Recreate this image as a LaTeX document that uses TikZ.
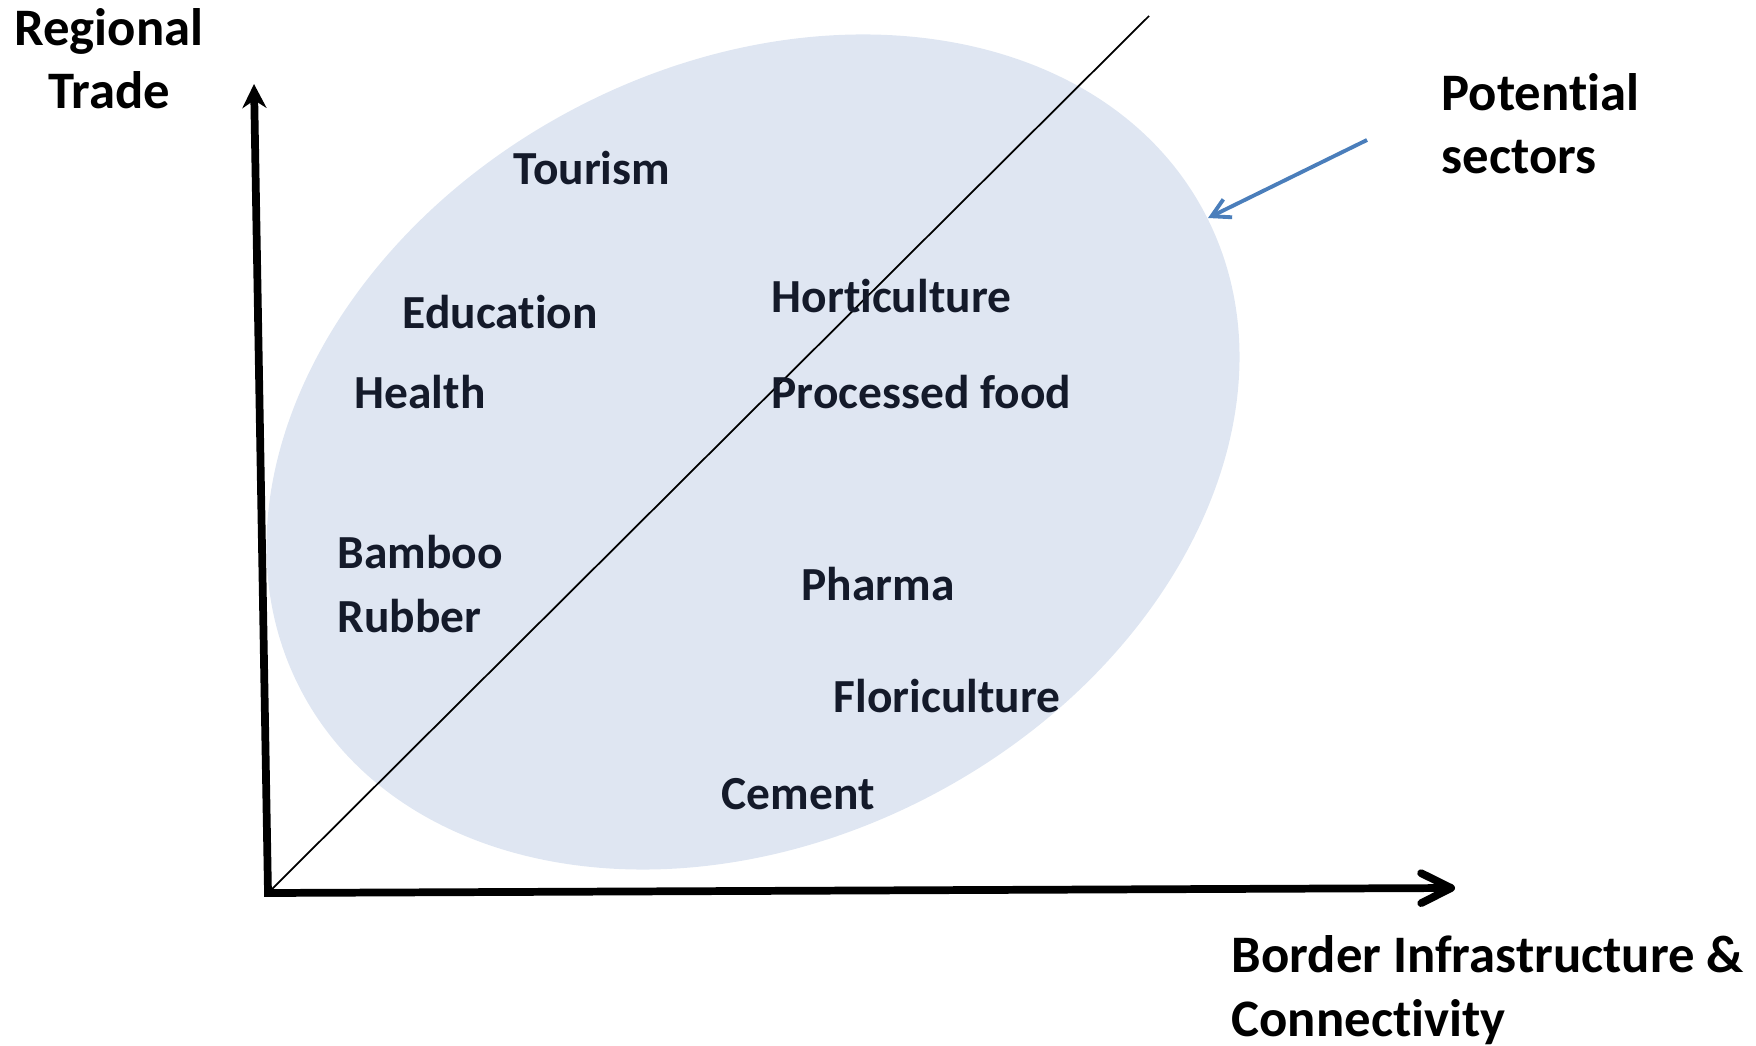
\documentclass[tikz,border=0pt]{standalone}
\usepackage{fontspec}
\setmainfont{Carlito}[Ligatures=NoCommon]
\usepackage{xcolor}
\usepackage{tikz}
\usetikzlibrary{arrows.meta}
\definecolor{bubbleblue}{RGB}{223,230,242}
\definecolor{arrowblue}{RGB}{74,126,187}
\definecolor{sectornavy}{RGB}{20,26,42}

\tikzset{
    sector/.style={anchor=base west, inner sep=0pt, text=sectornavy, font=\fontsize{13.5}{18}\selectfont\bfseries},
    axislabel/.style={inner sep=0pt, font=\fontsize{15}{18}\selectfont\bfseries},
    axisline/.style={line width=2.2pt, line join=miter}
}

\begin{document}
\begin{tikzpicture}
    \useasboundingbox (0,0) rectangle (17.56,10.45);

    % Bubble of potential sectors
    \fill[bubbleblue, rotate around={28:(7.53,5.93)}] (7.53,5.93) ellipse (5.11 and 3.87);

    % Axes and diagonal
    \coordinate (origin) at (2.68,1.52);
    \coordinate (ytip) at (2.54,9.61);
    \coordinate (xtip) at (14.55,1.57);
    \coordinate (diagend) at (11.49,10.29);
    \draw[line width=0.5pt] (origin) -- (diagend);
    \draw[axisline, {Stealth[length=0.24cm,width=0.24cm]}-{Straight Barb[length=0.3cm,width=0.3cm,round]}] (ytip) -- (origin) -- (xtip);

    % Axis labels (anchored on the last line)
    \node[axislabel, align=center, anchor=base] (ylabel) at (1.09,9.36) {Regional\\Trade};
    \node[axislabel, align=left, anchor=base west] (xlabel) at (12.31,0.09) {Border Infrastructure \&\\Connectivity};
    \node[axislabel, align=left, anchor=base west] (potlabel) at (14.41,8.71) {Potential\\sectors};

    % Pointer to the bubble
    \coordinate (pointfrom) at (13.67,9.05);
    \coordinate (pointto) at (12.08,8.27);
    \draw[arrowblue, line width=1.1pt, -{Straight Barb[length=0.18cm,width=0.2cm]}] (pointfrom) -- (pointto);

    % Sectors
    \node[sector] (tourism) at (5.13,8.60) {Tourism};
    \node[sector] (education) at (4.02,7.16) {Education};
    \node[sector] (health) at (3.54,6.36) {Health};
    \node[sector] (horticulture) at (7.71,7.32) {Horticulture};
    \node[sector] (processed) at (7.71,6.36) {Processed food};
    \node[sector] (bamboo) at (3.37,4.76) {Bamboo};
    \node[sector] (rubber) at (3.37,4.12) {Rubber};
    \node[sector] (pharma) at (8.01,4.44) {Pharma};
    \node[sector] (floriculture) at (8.33,3.32) {Floriculture};
    \node[sector] (cement) at (7.21,2.36) {Cement};
\end{tikzpicture}
\end{document}
